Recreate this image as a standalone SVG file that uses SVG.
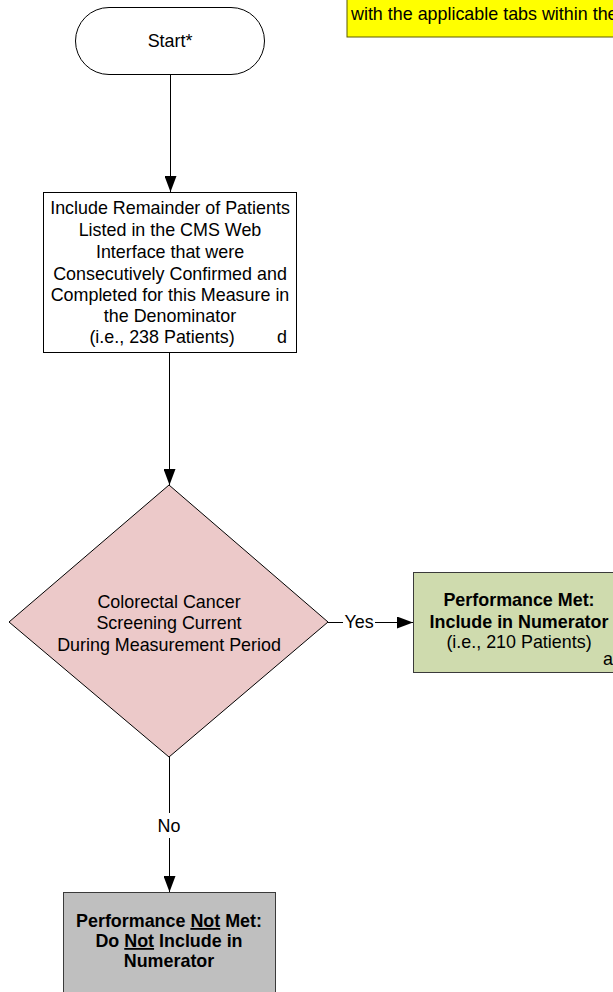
<svg xmlns="http://www.w3.org/2000/svg" width="613" height="992" viewBox="0 0 613 992">
<defs>
<style>
text{font-family:"Liberation Sans",Arial,sans-serif;font-size:17.9px;fill:#000;text-anchor:middle}
.b{font-weight:bold}
.u{text-decoration:underline}
.ln{stroke:#000;stroke-width:1;fill:none}
.shape{stroke:#000;stroke-width:1}
</style>
<marker id="ah" viewBox="0 0 16 12" refX="16" refY="6" markerWidth="16" markerHeight="12" markerUnits="userSpaceOnUse" orient="auto">
<path d="M0,0 L16,6 L0,12 Z" fill="#000"/>
</marker>
</defs>
<rect width="613" height="992" fill="#fff"/>
<g id="note">
<rect x="347" y="-2" width="280" height="39" fill="#ffff00" stroke="#5c5c00" stroke-width="1"/>
<text x="351" y="20" style="text-anchor:start">with the applicable tabs within the</text>
</g>
<g id="start">
<rect x="75.5" y="7.5" width="189" height="67" rx="33.5" ry="33.5" fill="#fff" class="shape"/>
<text x="170" y="47">Start*</text>
</g>
<g id="include">
<rect x="43.5" y="192.5" width="253" height="160" fill="#fff" class="shape"/>
<text x="170" y="214">Include Remainder of Patients</text>
<text x="170" y="236">Listed in the CMS Web</text>
<text x="170" y="258">Interface that were</text>
<text x="170" y="280">Consecutively Confirmed and</text>
<text x="170" y="301">Completed for this Measure in</text>
<text x="170" y="322">the Denominator</text>
<text x="162" y="343">(i.e., 238 Patients)</text>
<text x="282" y="343">d</text>
</g>
<g id="decision">
<polygon points="169,485 328,622 169,757 9,622" fill="#ecc9c9" class="shape"/>
<text x="169" y="608">Colorectal Cancer</text>
<text x="169" y="629">Screening Current</text>
<text x="169" y="651">During Measurement Period</text>
</g>
<g id="met">
<rect x="413.5" y="572.5" width="212" height="100" fill="#cfdbae" stroke="#3a3a3a" stroke-width="1"/>
<text x="519" y="606" class="b">Performance Met:</text>
<text x="519" y="628" class="b">Include in Numerator</text>
<text x="519" y="648">(i.e., 210 Patients)</text>
<text x="608" y="665">a</text>
</g>
<g id="notmet">
<rect x="63.5" y="892.5" width="212" height="110" fill="#bfbfbf" stroke="#3a3a3a" stroke-width="1"/>
<text x="169" y="927" class="b">Performance <tspan class="u">Not</tspan> Met:</text>
<text x="169" y="947" class="b">Do <tspan class="u">Not</tspan> Include in</text>
<text x="169" y="967" class="b">Numerator</text>
</g>
<g id="connectors">
<line x1="170.5" y1="75" x2="170.5" y2="192" class="ln" marker-end="url(#ah)"/>
<line x1="169.5" y1="353" x2="169.5" y2="485" class="ln" marker-end="url(#ah)"/>
<line x1="328" y1="622.5" x2="343" y2="622.5" class="ln"/>
<line x1="375" y1="622.5" x2="413" y2="622.5" class="ln" marker-end="url(#ah)"/>
<text x="359" y="628">Yes</text>
<line x1="169.5" y1="757" x2="169.5" y2="813" class="ln"/>
<line x1="169.5" y1="838" x2="169.5" y2="892" class="ln" marker-end="url(#ah)"/>
<text x="169" y="832">No</text>
</g>
</svg>
